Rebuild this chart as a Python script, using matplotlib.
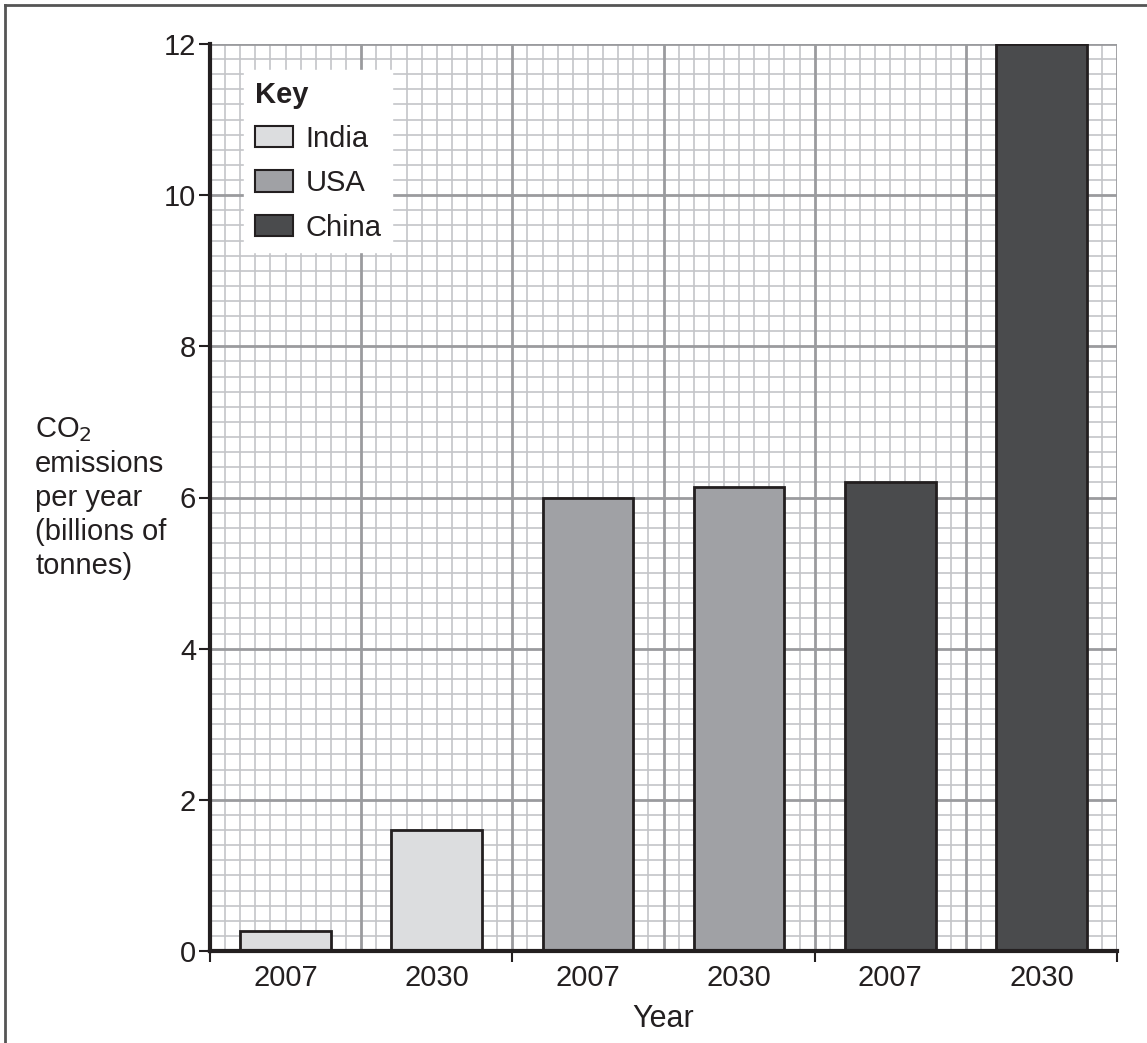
import matplotlib
matplotlib.use("Agg")
import matplotlib.pyplot as plt
import numpy as np
from matplotlib.lines import Line2D
from matplotlib.patches import Patch

plt.rcParams["font.family"] = ["Liberation Sans", "DejaVu Sans"]

COUNTRIES = ["India", "USA", "China"]
YEARS = ["2007", "2030"]
EMISSIONS = {
    "India": [0.26, 1.6],
    "USA": [6.0, 6.14],
    "China": [6.2, 12.0],
}
COLOURS = {"India": "#dcdddf", "USA": "#a0a1a5", "China": "#4a4b4d"}

TEXT_COLOR = "#231f20"
FS = 21

fig = plt.figure(figsize=(11.47, 10.43), dpi=100)
ax = fig.add_axes([210 / 1147, 92 / 1043, 907 / 1147, 907 / 1043])

n_bars = len(COUNTRIES) * len(YEARS)
ax.set_xlim(0, n_bars)
ax.set_ylim(0, 12)

# graph-paper grid
for x in np.arange(0, n_bars + 0.001, 0.1):
    major = abs(x - round(x)) < 1e-6
    ax.axvline(x, color="#9a9b9e" if major else "#c4c5c8",
               lw=2.0 if major else 1.2, zorder=0.5 if major else 0.2)
for y in np.arange(0, 12.001, 0.2):
    major = abs(y / 2 - round(y / 2)) < 1e-6
    ax.axhline(y, color="#9a9b9e" if major else "#c4c5c8",
               lw=2.0 if major else 1.2, zorder=0.5 if major else 0.2)

pos = 0
for country in COUNTRIES:
    for val in EMISSIONS[country]:
        ax.bar(pos + 0.5, val, width=0.6, color=COLOURS[country],
               edgecolor=TEXT_COLOR, linewidth=2.0, zorder=3)
        pos += 1

for side in ["top", "right"]:
    ax.spines[side].set_visible(False)
for side in ["left", "bottom"]:
    ax.spines[side].set_color(TEXT_COLOR)
    ax.spines[side].set_linewidth(3.0)
    ax.spines[side].set_zorder(4)

ax.set_yticks(np.arange(0, 13, 2))
ax.set_xticks(np.arange(0, n_bars + 1, 2))
ax.set_xticklabels([])
ax.set_xticks(np.arange(n_bars) + 0.5, minor=True)
ax.set_xticklabels(YEARS * len(COUNTRIES), minor=True)
ax.tick_params(axis="x", which="major", length=8, width=1.5, color=TEXT_COLOR, direction="out")
ax.tick_params(axis="x", which="minor", length=0, pad=9, labelsize=FS, labelcolor=TEXT_COLOR)
ax.tick_params(axis="y", length=8, width=1.5, color=TEXT_COLOR, pad=2,
               labelsize=FS, labelcolor=TEXT_COLOR)

ax.set_xlabel("Year", fontsize=22, color=TEXT_COLOR, labelpad=9)

fig.text(35 / 1147, 0.523, "CO$_2$\nemissions\nper year\n(billions of\ntonnes)",
         ha="left", va="center", fontsize=FS, color=TEXT_COLOR, linespacing=1.28)

handles = [Patch(facecolor=COLOURS[c], edgecolor=TEXT_COLOR, linewidth=1.5, label=c)
           for c in COUNTRIES]
leg = ax.legend(handles=handles, title="Key", loc="upper left",
                bbox_to_anchor=(0.038, 0.971), fontsize=FS, title_fontsize=FS,
                frameon=True, fancybox=False, framealpha=1, edgecolor="white",
                handlelength=1.3, handleheight=0.75, handletextpad=0.45,
                labelspacing=0.56, borderpad=0.35, borderaxespad=0, alignment="left")
leg.get_title().set_fontweight("bold")
leg.get_title().set_color(TEXT_COLOR)
for t in leg.get_texts():
    t.set_color(TEXT_COLOR)
leg.set_zorder(5)

# page border (top and left edges visible)
fig.add_artist(Line2D([5 / 1147, 5 / 1147], [0, 1 - 5 / 1043], transform=fig.transFigure,
                      color="#555555", lw=2))
fig.add_artist(Line2D([5 / 1147, 1], [1 - 5 / 1043, 1 - 5 / 1043], transform=fig.transFigure,
                      color="#555555", lw=2))

fig.savefig("out.png", dpi=100)
